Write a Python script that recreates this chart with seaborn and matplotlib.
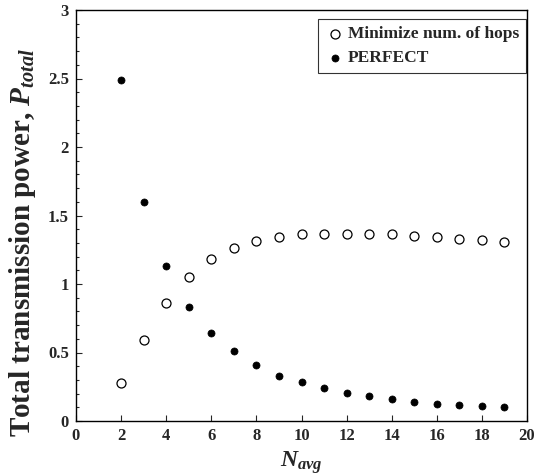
import matplotlib
matplotlib.use("Agg")
import matplotlib.pyplot as plt
import seaborn as sns
import pandas as pd
from matplotlib.ticker import MultipleLocator, FuncFormatter

n_avg = [2, 3, 4, 5, 6, 7, 8, 9, 10, 11, 12, 13, 14, 15, 16, 17, 18, 19]
min_hops = [0.275, 0.593, 0.861, 1.053, 1.18, 1.265, 1.314, 1.343, 1.362, 1.367,
            1.367, 1.362, 1.362, 1.348, 1.343, 1.328, 1.319, 1.307]
perfect = [2.49, 1.596, 1.131, 0.832, 0.642, 0.509, 0.409, 0.331, 0.282, 0.238,
           0.204, 0.185, 0.161, 0.141, 0.126, 0.114, 0.107, 0.100]
labels = ["Minimize num. of hops", "PERFECT"]

sns.set_theme(style="ticks")
plt.rcParams["font.family"] = ["Liberation Serif", "DejaVu Serif"]
plt.rcParams["font.weight"] = "bold"
plt.rcParams["mathtext.fontset"] = "custom"
plt.rcParams["mathtext.it"] = "Liberation Serif:bold:italic"
plt.rcParams["mathtext.rm"] = "Liberation Serif:bold"
plt.rcParams["mathtext.bf"] = "Liberation Serif:bold"

df1 = pd.DataFrame({"x": n_avg, "y": min_hops})
df2 = pd.DataFrame({"x": n_avg, "y": perfect})

fig = plt.figure(figsize=(5.43, 4.76), dpi=100)
ax = fig.add_axes([76/543, 1-421/476, 451/543, 411/476])

sns.scatterplot(data=df1, x="x", y="y", ax=ax, marker="o", s=42,
                facecolor="white", edgecolor="black", linewidth=0.9, label=labels[0], zorder=3)
sns.scatterplot(data=df2, x="x", y="y", ax=ax, marker="o", s=26,
                color="black", edgecolor="black", linewidth=0.5, label=labels[1], zorder=3)

ax.set_xlim(0, 20)
ax.set_ylim(0, 3)
ax.xaxis.set_major_locator(MultipleLocator(2))
ax.yaxis.set_major_locator(MultipleLocator(0.5))
ax.yaxis.set_minor_locator(MultipleLocator(0.1))
ax.yaxis.set_major_formatter(FuncFormatter(lambda v, p: f"{v:g}"))
ax.tick_params(axis="both", which="both", direction="in", labelsize=12, width=0.8)
ax.tick_params(axis="both", which="major", length=4, pad=5)
ax.tick_params(axis="y", which="minor", length=2.5)
for lab in ax.get_xticklabels() + ax.get_yticklabels():
    lab.set_fontweight("bold")
for sp in ax.spines.values():
    sp.set_linewidth(1.0)
    sp.set_color("black")

ax.set_xlabel(r"$N_{avg}$", fontsize=17, labelpad=4)
ax.set_ylabel(r"Total transmission power, $P_{total}$", fontsize=21, fontweight="bold")
ax.yaxis.set_label_coords(-0.085, 0.435)

leg = ax.legend(loc="upper right", bbox_to_anchor=(0.998, 0.978), frameon=True, fancybox=False,
                prop={"family": "Liberation Serif", "weight": "bold", "size": 12.5},
                handletextpad=0.15, borderpad=0.4, labelspacing=0.45, handlelength=1.2,
                borderaxespad=0)
leg.get_frame().set_edgecolor("black")
leg.get_frame().set_linewidth(0.8)

fig.savefig("out.png", dpi=100)
